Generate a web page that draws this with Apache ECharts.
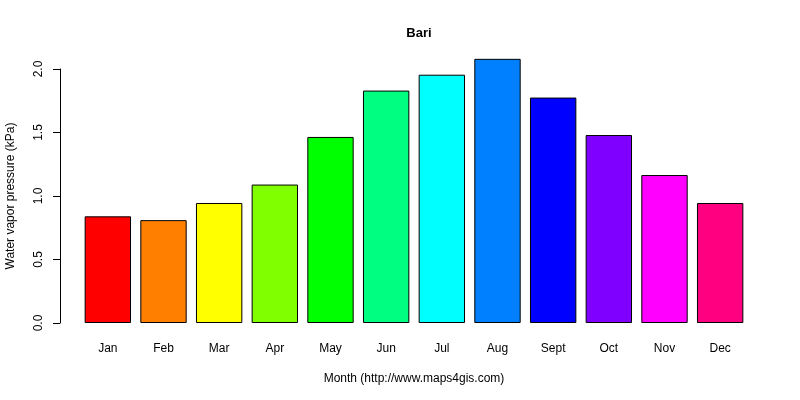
<!DOCTYPE html>
<html>
<head>
<meta charset="utf-8">
<script src="https://cdn.jsdelivr.net/npm/echarts@6/dist/echarts.min.js"></script>
<style>
  html, body { margin: 0; padding: 0; background: #fff; }
  #main { width: 800px; height: 400px; }
</style>
</head>
<body>
<div id="main"></div>
<script>
var months = ['Jan', 'Feb', 'Mar', 'Apr', 'May', 'Jun', 'Jul', 'Aug', 'Sept', 'Oct', 'Nov', 'Dec'];
var pressure = [0.84, 0.81, 0.945, 1.09, 1.465, 1.83, 1.955, 2.08, 1.775, 1.48, 1.165, 0.945];
var barColors = ['#FF0000', '#FF8000', '#FFFF00', '#80FF00', '#00FF00', '#00FF80',
                 '#00FFFF', '#0080FF', '#0000FF', '#8000FF', '#FF00FF', '#FF0080'];
var yTicks = [0, 0.5, 1.0, 1.5, 2.0];

var font = 'Liberation Sans, Arial, sans-serif';
var myChart = echarts.init(document.getElementById('main'));

var option = {
    backgroundColor: '#fff',
    animation: false,
    title: {
        text: 'Bari',
        left: 414,
        top: 22,
        textAlign: 'center',
        textStyle: { fontFamily: font, fontSize: 13, fontWeight: 'bold', color: '#000' }
    },
    grid: { left: 80, right: 52, top: 69, bottom: 77, outerBoundsMode: 'none', containLabel: false },
    xAxis: {
        type: 'category',
        data: months,
        axisLine: { show: false },
        axisTick: { show: false },
        axisLabel: { margin: 20, fontFamily: font, fontSize: 12, color: '#000' },
        name: 'Month (http://www.maps4gis.com)',
        nameLocation: 'middle',
        nameGap: 50,
        nameTextStyle: { fontFamily: font, fontSize: 12, color: '#000' }
    },
    yAxis: {
        type: 'value',
        min: yTicks[0],
        max: yTicks[yTicks.length - 1],
        interval: 0.5,
        offset: 20,
        axisLine: { show: true, lineStyle: { color: '#000', width: 1 } },
        axisTick: { show: true, length: 7, lineStyle: { color: '#000' } },
        splitLine: { show: false },
        axisLabel: {
            rotate: 90,
            margin: 15,
            fontFamily: font,
            fontSize: 12,
            color: '#000',
            formatter: function (v) { return v.toFixed(1); }
        },
        name: 'Water vapor pressure (kPa)',
        nameLocation: 'middle',
        nameGap: 43,
        nameTextStyle: { fontFamily: font, fontSize: 12, color: '#000' }
    },
    series: [{
        type: 'bar',
        clip: false,
        barCategoryGap: '16.7%',
        data: pressure.map(function (v, i) {
            return { value: v, itemStyle: { color: barColors[i] } };
        }),
        itemStyle: { borderColor: '#000', borderWidth: 1 }
    }]
};

myChart.setOption(option);
</script>
</body>
</html>
